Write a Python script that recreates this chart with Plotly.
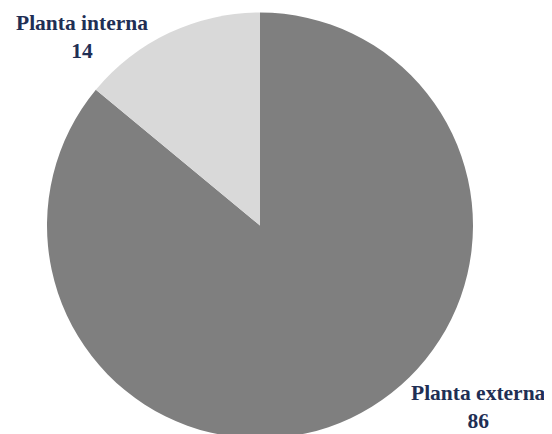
import plotly.graph_objects as go

labels = ["Planta externa", "Planta interna"]
values = [86, 14]
colors = ["#7f7f7f", "#d9d9d9"]

W, H = 552, 434
OFF = 8  # page body margin offset in the browser
fig = go.Figure(go.Pie(
    labels=labels, values=values, sort=False, direction="clockwise", rotation=0,
    marker=dict(colors=colors, line=dict(width=0)),
    textinfo="none", hoverinfo="label+value",
    domain=dict(x=[(47 - OFF) / W, (473 - OFF) / W], y=[0, 1 - (9 - OFF) / H]),
    showlegend=False,
))

font = dict(family="Liberation Serif", size=21.5, color="#1f2f55")
label_pos = {"Planta interna": (82, 37), "Planta externa": (478, 407)}
for lab, val in zip(labels, values):
    px, py = label_pos[lab]
    fig.add_annotation(x=(px - OFF) / W, y=1 - (py - OFF) / H, xref="paper", yref="paper",
                       showarrow=False,
                       text=f"<b>{lab}</b><br><b>{val}</b>", font=font,
                       xanchor="center", yanchor="middle", align="center")

fig.update_layout(width=W, height=H, margin=dict(l=0, r=0, t=0, b=0),
                  paper_bgcolor="white", plot_bgcolor="white")
fig.write_html("out.html")
